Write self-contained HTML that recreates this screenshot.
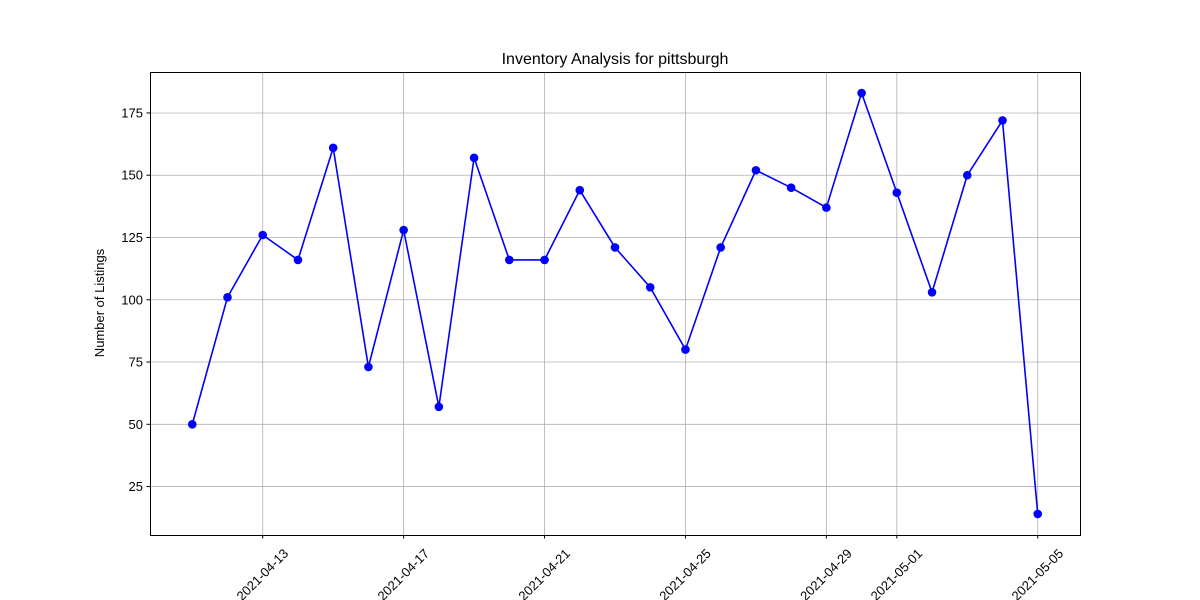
<!DOCTYPE html>
<html><head><meta charset="utf-8"><style>
html,body{margin:0;padding:0;background:#fff;}
svg{display:block;font-family:"Liberation Sans","DejaVu Sans",sans-serif;}
</style></head><body>
<svg id="chart" width="1200" height="600" viewBox="0 0 1200 600">
<rect x="0" y="0" width="1200" height="600" fill="#fff"/>
<g id="grid"></g>
<g id="yticks"></g>
<g id="xticks"></g>
<g id="series"></g>
<rect x="150.5" y="72.5" width="930" height="463" fill="none" stroke="#000" stroke-width="1"/>
<text x="615" y="64" font-size="16" text-anchor="middle">Inventory Analysis for pittsburgh</text>
<text transform="translate(104,303) rotate(-90)" font-size="13" text-anchor="middle">Number of Listings</text>
</svg>
<script>
const startDate = "2021-04-11";
const values = [50,101,126,116,161,73,128,57,157,116,116,144,121,105,80,121,152,145,137,183,143,103,150,172,14];
const xTickLabels = ["2021-04-13","2021-04-17","2021-04-21","2021-04-25","2021-04-29","2021-05-01","2021-05-05"];
const yTickValues = [25,50,75,100,125,150,175];

const NS="http://www.w3.org/2000/svg";
const L=150,R=1080,T=72,B=535;
const dayMs=86400000, t0=Date.parse(startDate+"T00:00:00Z");
const n=values.length;
const xMin=-0.05*(n-1), xMax=(n-1)*1.05;
const vMin=Math.min(...values), vMax=Math.max(...values), pad=(vMax-vMin)*0.05;
const yMin=vMin-pad, yMax=vMax+pad;
const xs=d=>L+(d-xMin)/(xMax-xMin)*(R-L);
const ys=v=>B-(v-yMin)/(yMax-yMin)*(B-T);
const dayOf=s=>(Date.parse(s+"T00:00:00Z")-t0)/dayMs;
function mk(tag,attrs,parent){const e=document.createElementNS(NS,tag);for(const k in attrs)e.setAttribute(k,attrs[k]);parent.appendChild(e);return e;}
const grid=document.getElementById('grid'),yt=document.getElementById('yticks'),xt=document.getElementById('xticks'),se=document.getElementById('series');
yTickValues.forEach(v=>{const y=ys(v);
 const g=mk('line',{x1:L,x2:R,y1:y,y2:y,stroke:'#b0b0b0','stroke-width':0.8},grid);
 
 
 mk('line',{x1:L-3.5,x2:L,y1:y,y2:y,stroke:'#000'},yt);
 const t=mk('text',{x:L-7,y:y+4.5,'font-size':13,'text-anchor':'end'},yt);t.textContent=v;
 
 
});
xTickLabels.forEach(s=>{const x=xs(dayOf(s));
 const g=mk('line',{x1:x,x2:x,y1:T,y2:B,stroke:'#b0b0b0','stroke-width':0.8},grid);
 
 
 mk('line',{x1:x,x2:x,y1:B,y2:B+3.5,stroke:'#000'},xt);
 const cy=575;
 const t=mk('text',{x:x,y:cy+4,'font-size':13,'text-anchor':'middle',transform:`rotate(-45 ${x} ${cy})`},xt);t.textContent=s;
 
 
});
const pts=values.map((v,i)=>[xs(i),ys(v)]);
const pl=mk('polyline',{points:pts.map(p=>p.join(',')).join(' '),fill:'none',stroke:'#0000ff','stroke-width':1.6},se);


pts.forEach(p=>{const c=mk('circle',{cx:p[0],cy:p[1],r:4.3,fill:'#0000ff'},se);
 
 
});
</script>
</body></html>
